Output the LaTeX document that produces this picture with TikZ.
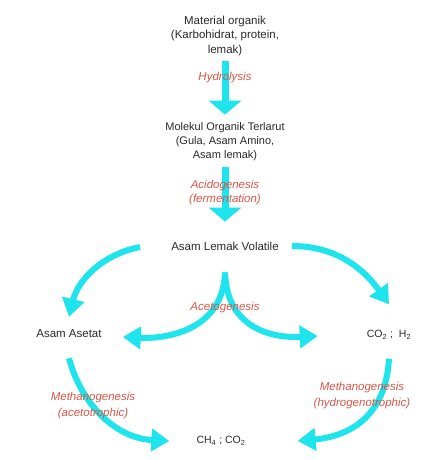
\documentclass[tikz,border=0pt]{standalone}
\usepackage{fontspec}
\setmainfont{Liberation Sans}
\usetikzlibrary{arrows.meta}
\definecolor{arrowcyan}{RGB}{30,228,238}
\definecolor{labelred}{RGB}{215,85,70}
\definecolor{txtgray}{RGB}{40,40,40}
\begin{document}
\begin{tikzpicture}[x=1pt,y=-1pt,
  txt/.style={font=\fontsize{11.5}{14.3}\selectfont, text=txtgray, inner sep=0pt, align=center},
  small/.style={font=\fontsize{11}{14}\selectfont, text=txtgray, inner sep=0pt, align=center},
  chem/.style={font=\fontsize{10.5}{12}\selectfont, text=txtgray, inner sep=0pt},
  lbl/.style={font=\fontsize{11.5}{14}\selectfont\itshape, text=labelred, inner sep=0pt, align=center},
  lblwide/.style={font=\fontsize{11.5}{16}\selectfont\itshape, text=labelred, inner sep=0pt, align=center},
  vflow/.style={draw=arrowcyan, line width=7pt, -{Triangle[width=32pt,length=14pt]}},
  cflow/.style={draw=arrowcyan, line width=6pt, -{Triangle[width=22pt,length=18pt]}}]
\useasboundingbox (0,0) rectangle (425,460);

\node[txt] (mat) at (225,36) {Material organik\\(Karbohidrat, protein,\\lemak)};
\node[small] (mol) at (225,142) {Molekul Organik Terlarut\\(Gula, Asam Amino,\\Asam lemak)};
\node[txt] (alv) at (225,246) {Asam Lemak Volatile};
\node[txt] (aa) at (69,334) {Asam Asetat};
\node[chem] (co) at (389,335) {CO\textsubscript{2} ;\ \ H\textsubscript{2}};
\node[chem] (ch) at (221,441) {CH\textsubscript{4} ; CO\textsubscript{2}};

\draw[vflow] ([yshift=-5pt]mat.south) -- ([yshift=8pt]mol.north);
\draw[vflow] ([yshift=-6pt]mol.south) -- ([yshift=20pt]alv.north);

\draw[cflow] ([xshift=-31pt,yshift=-1pt]alv.west) .. controls +(-37,7) and +(9,-37) .. ([yshift=13pt]aa.north);
\draw[cflow] ([xshift=13pt]alv.east) .. controls +(45,0) and +(-25,-35) .. ([yshift=26pt]co.north);
\draw[cflow] ([yshift=-19pt]co.south) .. controls +(-3,55) and +(55,-5) .. ([xshift=52pt]ch.east);
\draw[cflow] ([yshift=-20pt]aa.south) .. controls +(12,45) and +(-55,-3) .. ([xshift=-27pt]ch.west);
\draw[cflow] ([yshift=-22pt]alv.south) .. controls +(-2,60) and +(40,2) .. ([xshift=21pt,yshift=-3pt]aa.east);
\draw[cflow] ([yshift=-22pt]alv.south) .. controls +(2,60) and +(-40,2) .. ([xshift=-49pt,yshift=-1pt]co.west);

\node[lbl] (hyd) at (225,78) {Hydrolysis};
\node[lbl] (acid) at (225,193) {Acidogenesis\\(fermentation)};
\node[lbl] (aceto) at (225,308) {Acetogenesis};
\node[lblwide] (meth1) at (93,406) {Methanogenesis\\(acetotrophic)};
\node[lblwide] (meth2) at (362,396) {Methanogenesis\\(hydrogenotrophic)};
\end{tikzpicture}
\end{document}
